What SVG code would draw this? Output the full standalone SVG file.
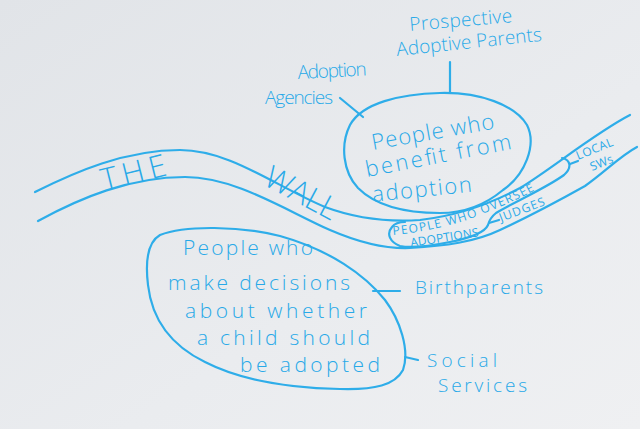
<svg xmlns="http://www.w3.org/2000/svg" width="640" height="429" viewBox="0 0 640 429">
<defs>
<linearGradient id="bg" x1="0" y1="0" x2="1" y2="1">
<stop offset="0" stop-color="#e1e4e8"/>
<stop offset="0.6" stop-color="#eaecef"/>
<stop offset="1" stop-color="#eff0f2"/>
</linearGradient>
<path id="tp" d="M393,235 C425,232 455,225 480,215 C505,205 535,193 566,171"/>
</defs>
<style>
.ink{fill:none;stroke:#2eade9;stroke-width:2.2;stroke-linecap:round;stroke-linejoin:round}
text{fill:#28a9e8;font-family:"Open Sans","DejaVu Sans",sans-serif;font-weight:300}
.big{font-size:22px}
.low{font-size:21px}
.mid{font-size:19px}
.cap{font-size:12px;font-weight:400;letter-spacing:1.2px}
.wall{font-size:31px;letter-spacing:4px}
</style>
<rect width="640" height="429" fill="url(#bg)"/>

<g id="wall">
<path class="ink" d="M35,192 C75,172 125,150 180,150 C230,150 275,186 325,207 C360,220 390,222 420,220 C455,216 490,204 520,188 C550,170 595,133 630,115"/>
<path class="ink" d="M38,221 C80,198 130,177 185,177 C235,177 285,210 330,230 C360,243 385,249 410,248 C445,246 475,242 500,230 C530,216 560,200 585,186 C605,172 620,156 637,147"/>
<text class="wall" x="104" y="191" transform="rotate(-14 104 191)" textLength="70">THE</text>
<text class="wall" x="262" y="184" transform="rotate(28 262 184)" textLength="82">WALL</text>
</g>

<g id="overseers">
<path class="ink" d="M562,158 C571,160 572,168 564,175 C546,188 520,199 496,213 C491,217 489,221 488,225 C485,232 470,238 450,242 C430,246 410,248 400,246 C390,242 386,234 392,227 C395,223 400,222 405,222"/>
<text class="cap"><textPath href="#tp">PEOPLE WHO OVERSEE</textPath></text>
<text class="cap" x="411" y="247" transform="rotate(-9 411 247)" textLength="70">ADOPTIONS</text>
</g>

<g id="judges">
<text class="cap" x="501" y="222" transform="rotate(-21 501 222)" textLength="49">JUDGES</text>
</g>

<g id="localsws">
<text class="cap" x="578" y="160" transform="rotate(-22 578 160)" textLength="40">LOCAL</text>
<text class="cap" x="592" y="171" transform="rotate(-22 592 171)" textLength="25">SWs</text>
</g>

<g id="benefit">
<path class="ink" d="M440,93 C480,92 515,105 527,125 C537,145 525,175 503,190 C485,205 465,213 440,213 C405,213 375,205 358,188 C343,172 340,145 350,125 C362,103 400,94 440,93 Z"/>
<text class="big" x="373" y="150" transform="rotate(-10 373 150)" textLength="124">People who</text>
<text class="big" x="367" y="177" transform="rotate(-11 367 177)" textLength="148">benefit from</text>
<text class="big" x="373" y="202" transform="rotate(-6 373 202)" textLength="100">adoption</text>
</g>

<g id="prospective">
<text class="mid" x="410" y="31" transform="rotate(-5 410 31)" textLength="103">Prospective</text>
<text class="mid" x="397" y="56" transform="rotate(-6 397 56)" textLength="146">Adoptive Parents</text>
</g>

<g id="agencies">
<text class="mid" x="298" y="79" transform="rotate(-3 298 79)" textLength="69">Adoption</text>
<text class="mid" x="265" y="104" textLength="68">Agencies</text>
</g>

<g id="decisions">
<path class="ink" d="M160,235 C185,225 240,226 280,236 C330,250 365,275 385,300 C400,320 410,350 403,370 C395,385 375,390 340,389 C290,388 240,380 205,362 C170,345 152,320 148,285 C145,260 148,242 160,235 Z"/>
<text class="low" x="183" y="255" textLength="130">People who</text>
<text class="low" x="168" y="290" textLength="182">make decisions</text>
<text class="low" x="185" y="318" textLength="182">about whether</text>
<text class="low" x="197" y="345" textLength="173">a child should</text>
<text class="low" x="240" y="372" textLength="140">be adopted</text>
</g>

<g id="birthparents">
<text class="mid" x="415" y="294" textLength="128">Birthparents</text>
</g>

<g id="socialservices">
<text class="mid" x="427" y="367" textLength="70">Social</text>
<text class="mid" x="438" y="392" textLength="89">Services</text>
</g>

<g id="connectors">
<line class="ink" x1="450" y1="62" x2="450" y2="93"/>
<line class="ink" x1="340" y1="98" x2="363" y2="117"/>
<line class="ink" x1="373" y1="291" x2="400" y2="291"/>
<line class="ink" x1="405" y1="357" x2="418" y2="360"/>
<line class="ink" x1="489" y1="223" x2="499" y2="220"/>
<line class="ink" x1="570" y1="164" x2="578" y2="161"/>
</g>
</svg>
